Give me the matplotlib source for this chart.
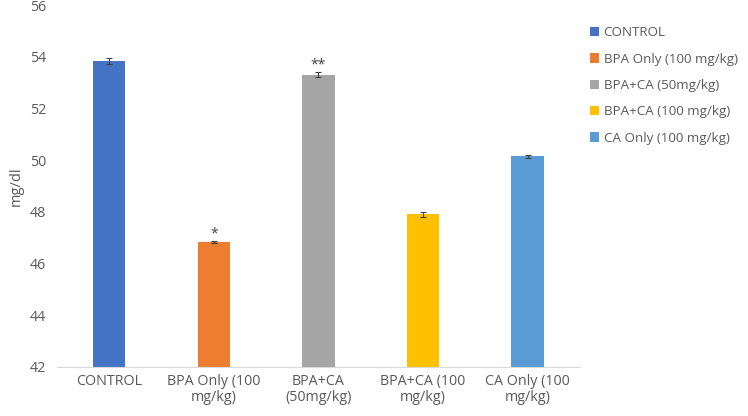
import matplotlib.pyplot as plt
import numpy as np

plt.rcParams['font.family'] = ['Open Sans', 'DejaVu Sans']

groups = ['CONTROL', 'BPA Only (100 mg/kg)', 'BPA+CA (50mg/kg)',
          'BPA+CA (100 mg/kg)', 'CA Only (100 mg/kg)']
tick_labels = ['CONTROL', 'BPA Only (100\nmg/kg)', 'BPA+CA\n(50mg/kg)',
               'BPA+CA (100\nmg/kg)', 'CA Only (100\nmg/kg)']
values = [53.85, 46.85, 53.3, 47.9, 50.15]
errors = [0.12, 0.04, 0.1, 0.1, 0.05]
marks = ['', '*', '**', '', '']
colors = ['#4472C4', '#ED7D31', '#A5A5A5', '#FFC000', '#5B9BD5']

fig = plt.figure(figsize=(7.48, 4.16), dpi=100)
ax = fig.add_axes([0.0762, 0.1178, 0.699, 0.870])

x = np.arange(len(groups))
bars = []
for i in range(len(groups)):
    b = ax.bar(x[i], values[i] - 42, bottom=42, width=0.31, color=colors[i],
               label=groups[i], zorder=2)
    ax.errorbar(x[i], values[i], yerr=errors[i], fmt='none', ecolor='#404040',
                elinewidth=0.8, capsize=2.5, capthick=0.8, zorder=3)
    if marks[i]:
        ax.text(x[i], values[i] + errors[i] - 0.02, marks[i], ha='center',
                va='bottom', fontsize=10, color='#404040')
    bars.append(b)

ax.set_xlim(-0.5, 4.5)
ax.set_ylim(42, 56)
ax.set_yticks(np.arange(42, 57, 2))
ax.set_xticks(x)
ax.set_xticklabels(tick_labels, linespacing=1.1)
ax.tick_params(axis='both', length=0, labelsize=10.3, colors='#595959')
ax.tick_params(axis='x', pad=5)
ax.tick_params(axis='y', pad=8)
for s in ['top', 'right', 'left']:
    ax.spines[s].set_visible(False)
ax.spines['bottom'].set_color('#d9d9d9')
ax.set_ylabel('mg/dl', fontsize=10.5, color='#595959', labelpad=4)

fig.legend(handles=bars, loc='upper left', bbox_to_anchor=(0.774, 0.962),
           frameon=False, fontsize=9.6, labelcolor='#595959',
           handlelength=0.7, handleheight=0.7, handletextpad=0.35,
           labelspacing=1.0, borderpad=0.3)

fig.savefig('out.png', dpi=100)
